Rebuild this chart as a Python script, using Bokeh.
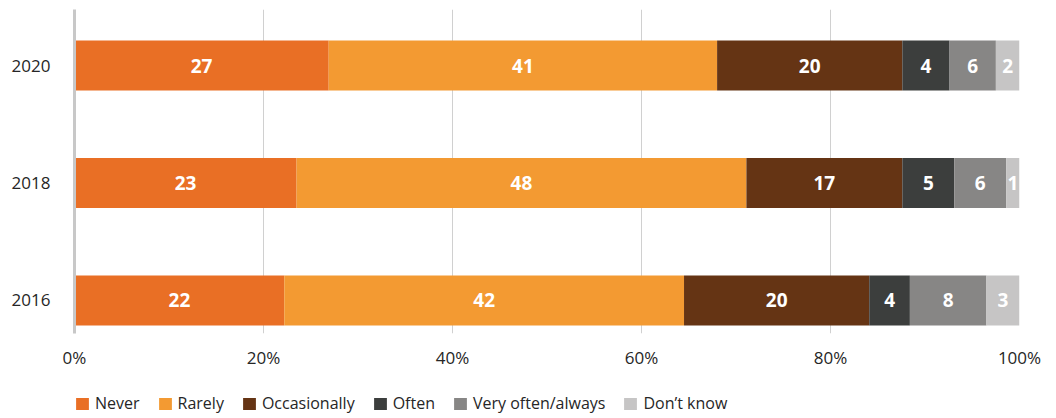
from bokeh.plotting import figure
from bokeh.layouts import column
from bokeh.models import Range1d, FixedTicker, PrintfTickFormatter, Legend, LegendItem, ColumnDataSource
from bokeh.core.properties import value
from bokeh.embed import file_html
from bokeh.resources import INLINE

# ---- data ----
years = ["2016", "2018", "2020"]
categories = ["Never", "Rarely", "Occasionally", "Often", "Very often/always", "Don\u2019t know"]
colors = ["#E96F25", "#F39A32", "#653414", "#3C3E3D", "#878685", "#C6C5C5"]

# bar widths (percent)
never = [22.2, 23.5, 26.9]
rarely = [42.3, 47.6, 41.1]
occasionally = [19.6, 16.5, 19.6]
often = [4.3, 5.5, 5.0]
very_often = [8.1, 5.5, 4.9]
dont_know = [3.5, 1.4, 2.5]

# printed labels
never_lbl = ["22", "23", "27"]
rarely_lbl = ["42", "48", "41"]
occasionally_lbl = ["20", "17", "20"]
often_lbl = ["4", "5", "4"]
very_often_lbl = ["8", "6", "6"]
dont_know_lbl = ["3", "1", "2"]

x_ticks = [0, 20, 40, 60, 80, 100]

series = [never, rarely, occasionally, often, very_often, dont_know]
labels = [never_lbl, rarely_lbl, occasionally_lbl, often_lbl, very_often_lbl, dont_know_lbl]

ypos = list(range(len(years)))
keys = ["s%d" % i for i in range(len(series))]
data = {"y": ypos}
for k, s in zip(keys, series):
    data[k] = s
src = ColumnDataSource(data)

FONT = "Open Sans"

p = figure(width=1056, height=385, output_backend="svg", toolbar_location=None,
           x_range=Range1d(0, 100), y_range=Range1d(-0.281, 2.477),
           min_border_left=74, min_border_right=37, min_border_top=9, min_border_bottom=52)
p.outline_line_color = None

renderers = p.hbar_stack(keys, y="y", height=0.425, color=colors, source=src, line_width=0)

# segment labels
lx, ly, lt = [], [], []
for yi in range(len(years)):
    cum = 0.0
    for s, l in zip(series, labels):
        lx.append(cum + s[yi] / 2.0)
        ly.append(ypos[yi])
        lt.append(l[yi])
        cum += s[yi]
p.text(x=lx, y=ly, text=lt, text_color="white", text_font=value(FONT), text_font_style="bold",
       text_font_size="19px", text_align="center", text_baseline="middle")

# axes
p.xaxis.ticker = FixedTicker(ticks=x_ticks)
p.xaxis.formatter = PrintfTickFormatter(format="%d%%")
p.xaxis.axis_line_color = None
p.xaxis.major_tick_line_color = None
p.xaxis.minor_tick_line_color = None
p.xaxis.major_label_standoff = 6
p.xaxis.major_label_text_font = FONT
p.xaxis.major_label_text_font_size = "17px"
p.xaxis.major_label_text_color = "#262626"

p.yaxis.ticker = FixedTicker(ticks=ypos)
p.yaxis.major_label_overrides = {i: y for i, y in zip(ypos, years)}
p.yaxis.axis_line_color = "#C8C8C8"
p.yaxis.axis_line_width = 3
p.yaxis.major_tick_line_color = None
p.yaxis.minor_tick_line_color = None
p.yaxis.major_label_standoff = 18
p.yaxis.major_label_text_font = FONT
p.yaxis.major_label_text_font_size = "17px"
p.yaxis.major_label_text_color = "#262626"

p.ygrid.grid_line_color = None
p.xgrid.grid_line_color = "#D0D0D0"
p.xgrid.grid_line_width = 1

# ---- legend strip (separate small figure) ----
lf = figure(width=1056, height=33, output_backend="svg", toolbar_location=None,
            x_range=Range1d(0, 1), y_range=Range1d(0, 1), x_axis_type=None, y_axis_type=None,
            min_border_left=0, min_border_right=0, min_border_top=0, min_border_bottom=0)
lf.outline_line_color = None
lf.xgrid.visible = False
lf.ygrid.visible = False
lrend = lf.hbar_stack(keys, y="y", height=0.425, color=colors, source=src, line_width=0)
for r in lrend:
    r.visible = False

legend = Legend(items=[LegendItem(label=c, renderers=[r]) for c, r in zip(categories, lrend)],
                orientation="horizontal", location=(0, 4),
                glyph_width=16, glyph_height=15, label_height=15, label_standoff=5, spacing=17,
                padding=0, margin=0, border_line_color=None, background_fill_alpha=0,
                label_text_font=FONT, label_text_font_size="16px", label_text_color="#262626")
lf.add_layout(legend, "center")

layout = column(p, lf, spacing=0)

open("out.html", "w").write(file_html(layout, INLINE))
